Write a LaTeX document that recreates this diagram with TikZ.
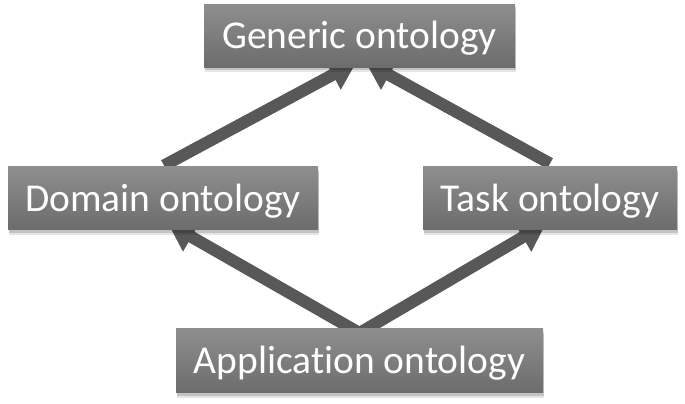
\documentclass[tikz,border=0pt]{standalone}
\usepackage{fontspec}
\setmainfont[Ligatures=NoCommon]{Carlito}
\usetikzlibrary{arrows.meta,calc,shadows}
\definecolor{boxtop}{HTML}{8E8E8E}
\definecolor{boxbot}{HTML}{6C6C6C}
\definecolor{arrowgray}{HTML}{585858}
\tikzset{
  ontbox/.style={rectangle, inner sep=0pt, minimum height=63pt,
    top color=boxtop, bottom color=boxbot, draw=none,
    text=white, font=\fontsize{39.5}{40}\selectfont,
    text height=30pt, text depth=4pt,
    preaction={fill=black, opacity=0.10, transform canvas={xshift=1pt,yshift=-5pt}},
    preaction={fill=black, opacity=0.15, transform canvas={xshift=1pt,yshift=-3pt}}},
  onthead/.tip={Triangle[width=32pt,length=27pt]},
  ontarrow/.style={draw=arrowgray, line width=12pt, -onthead, line join=miter}
}
\begin{document}
\begin{tikzpicture}[x=1pt,y=1pt]
\useasboundingbox (0,0) rectangle (685,404);
\path
  (359.5,368) coordinate (pgen)
  (163,205.5) coordinate (pdom)
  (550,205.5) coordinate (ptask)
  (359.5,43) coordinate (papp);
\coordinate (genL) at ($(pgen)+(-3,-26)$);
\coordinate (genR) at ($(pgen)+(6,-26)$);
\coordinate (domT) at ($(pdom)+(1,33)$);
\coordinate (taskT) at ($(ptask)+(0,35)$);
\coordinate (domB) at ($(pdom)+(5,-25)$);
\coordinate (taskB) at ($(ptask)+(-4,-25)$);
\coordinate (appT) at ($(papp)+(0,28)$);
\draw[ontarrow] (domT) -- (genL);
\draw[ontarrow] (taskT) -- (genR);
\draw[ontarrow, onthead-onthead] (domB) -- (appT) -- (taskB);
\node[ontbox, minimum width=311pt] (gen) at (pgen) {Generic ontology};
\node[ontbox, minimum width=310pt] (dom) at (pdom) {Domain ontology};
\node[ontbox, minimum width=254pt] (task) at (ptask) {Task ontology};
\node[ontbox, minimum width=367pt, minimum height=64pt] (app) at (papp) {Application ontology};
\end{tikzpicture}
\end{document}
